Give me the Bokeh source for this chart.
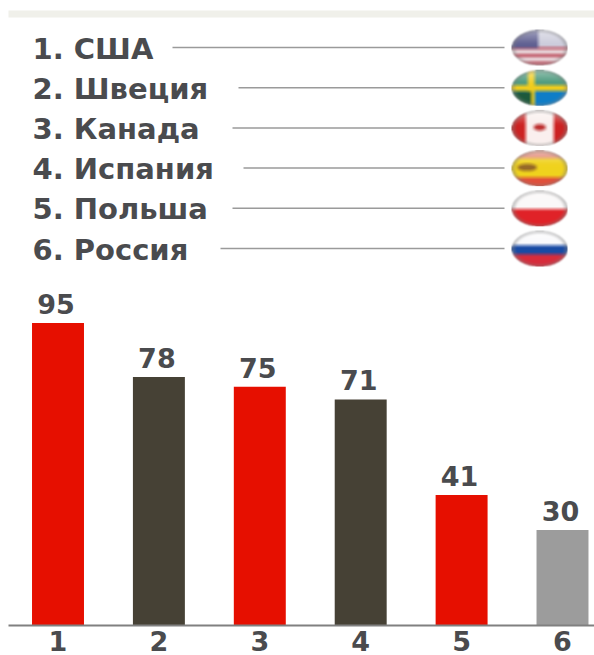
from bokeh.plotting import figure
from bokeh.layouts import column
from bokeh.models import Range1d, FixedTicker
from bokeh.core.properties import value
from bokeh.embed import file_html
from bokeh.resources import INLINE
import numpy as np

countries = ["1. США", "2. Швеция", "3. Канада", "4. Испания", "5. Польша", "6. Россия"]
flag_names = ["usa", "sweden", "canada", "spain", "poland", "russia"]
places = [1, 2, 3, 4, 5, 6]
scores = [95, 78, 75, 71, 41, 30]
bar_colors = ["#e60f00", "#464135", "#e60f00", "#464135", "#e60f00", "#9c9c9c"]
tick_labels = ["1", "2", "3", "4", "5", "6"]

W = 594
FONT = "DejaVu Sans"
TEXT = "#4a4b4e"

# ---- flags drawn as small soft rasters ----
def blur(a, k=9):
    ker = np.ones(k) / k
    a = np.apply_along_axis(lambda m: np.convolve(np.pad(m, k, mode="edge"), ker, "same")[k:-k], 0, a)
    a = np.apply_along_axis(lambda m: np.convolve(np.pad(m, k, mode="edge"), ker, "same")[k:-k], 1, a)
    return a

def flag(name, w=112, h=72):
    yy, xx = np.mgrid[0:h, 0:w]
    u = (xx + .5) / w * 2 - 1
    v = (yy + .5) / h * 2 - 1
    c = np.ones((h, w, 3))
    def put(mask, col):
        c[mask] = np.array(col) / 255
    if name == "usa":
        put(np.ones_like(u, bool), (238, 232, 235))
        put(np.sin((v + .1) * 15) > 0.1, (190, 80, 95))
        put((v < -.02), (205, 205, 220))
        put((v < .02) & (u < -.05), (95, 95, 145))
    elif name == "sweden":
        put(np.ones_like(u, bool), (15, 125, 200))
        put(v < -.2, (70, 150, 120))
        put(np.abs(v) < .17, (240, 205, 30))
        put(np.abs(u + .3) < .13, (240, 205, 30))
        put((u < -.3) & (v > .2), (30, 90, 60))
    elif name == "canada":
        put(np.ones_like(u, bool), (250, 240, 238))
        put(np.abs(u) > .5, (205, 35, 35))
        put((u / .22) ** 2 + ((v + .05) / .18) ** 2 < 1, (190, 50, 50))
    elif name == "spain":
        put(np.ones_like(u, bool), (240, 210, 30))
        put(v < -.55, (225, 130, 110))
        put(v > .5, (225, 80, 60))
        put(((u + .45) / .35) ** 2 + ((v + .05) / .2) ** 2 < 1, (150, 105, 40))
    elif name == "poland":
        put(np.ones_like(u, bool), (250, 248, 248))
        put(v > .02, (225, 35, 40))
    elif name == "russia":
        put(np.ones_like(u, bool), (250, 250, 252))
        put(v > -.2, (25, 75, 165))
        put(v > .3, (215, 45, 60))
    gloss = np.clip(-v - .2, 0, 1)[..., None] * .55
    c = c * (1 - gloss) + gloss
    r = u ** 2 + v ** 2
    rim = (r > .8)[..., None] * .45
    c = c * (1 - rim) + np.array([.5, .5, .5]) * rim
    c = np.stack([blur(c[..., i]) for i in range(3)], -1)
    a = blur((r < 1).astype(float), k=5)
    img = np.zeros((h, w), dtype=np.uint32)
    view = img.view(np.uint8).reshape(h, w, 4)
    view[..., :3] = (c * 255).astype(np.uint8)
    view[..., 3] = (a * 255).astype(np.uint8)
    return img

# ---- legend panel ----
top = figure(width=W, height=280, output_backend="svg", toolbar_location=None,
             x_range=Range1d(0, 594), y_range=Range1d(280, 0),
             min_border=0, outline_line_color=None, x_axis_type=None, y_axis_type=None)
top.grid.visible = False

row_y = [47 + 40.2 * i for i in range(len(countries))]
line_start = [172, 238, 232, 243, 232, 220]

top.quad(left=[8], right=[594], top=[10], bottom=[17], fill_color="#f0f0ea", line_color=None)
top.text(x=[32] * 6, y=[y + 1 for y in row_y], text=countries, text_font=value(FONT),
         text_font_style="bold", text_font_size="29px", text_color=TEXT,
         text_align="left", text_baseline="middle")
top.segment(x0=line_start, x1=[504] * 6, y0=row_y, y1=row_y, line_color="#9a9a9a", line_width=1.5)
for name, y in zip(flag_names, row_y):
    top.image_rgba(image=[flag(name)], x=511, y=y - 18, dw=56, dh=36)

# ---- bars ----
per_unit = 100.9
x0 = 1 - 57.5 / per_unit
x1 = x0 + W / per_unit
bars = figure(width=W, height=375, output_backend="svg", toolbar_location=None,
              x_range=Range1d(x0, x1), y_range=Range1d(0, 344.5 / 3.18),
              min_border=0, min_border_bottom=30, outline_line_color=None, y_axis_type=None)
bars.grid.visible = False
bars.vbar(x=places, top=scores, width=0.515, fill_color=bar_colors, line_color=None)
bars.text(x=places, y=scores, x_offset=-2, y_offset=-9, text=[str(s) for s in scores], text_font=value(FONT),
          text_font_style="bold", text_font_size="27px", text_color=TEXT,
          text_align="center", text_baseline="bottom")
ax = bars.xaxis[0]
ax.ticker = FixedTicker(ticks=places)
ax.major_label_overrides = dict(zip(places, tick_labels))
ax.major_tick_line_color = None
ax.minor_tick_line_color = None
ax.major_tick_in = 0
ax.major_tick_out = 0
ax.bounds = (x0 + 8 / per_unit, x1)
ax.axis_line_color = "#808080"
ax.axis_line_width = 2
ax.major_label_standoff = 5
ax.major_label_text_font = FONT
ax.major_label_text_font_style = "bold"
ax.major_label_text_font_size = "27px"
ax.major_label_text_color = TEXT

page = column(top, bars, spacing=0)
open("out.html", "w").write(file_html(page, INLINE))
